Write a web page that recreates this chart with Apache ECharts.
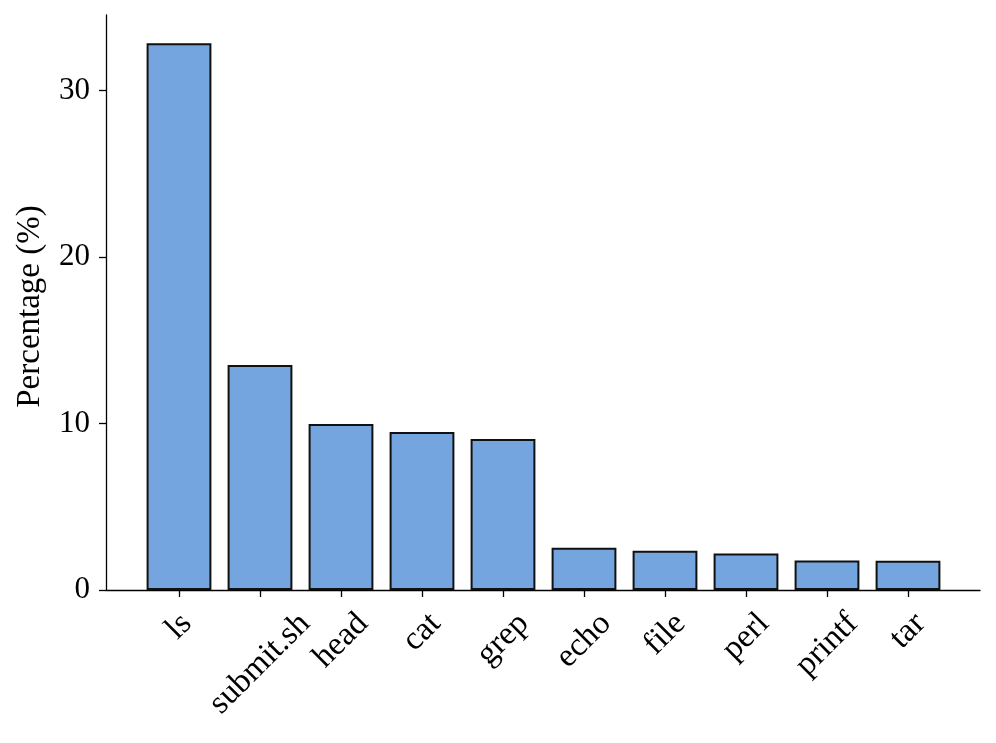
<!DOCTYPE html>
<html><head><meta charset="utf-8">
<script src="https://cdn.jsdelivr.net/npm/echarts@6/dist/echarts.min.js"></script>
<style>html,body{margin:0;padding:0;background:#fff}#c{width:996px;height:743px}</style>
</head><body><div id="c"></div>
<script>
const categories = ['ls','submit.sh','head','cat','grep','echo','file','perl','printf','tar'];
const values = [32.85, 13.52, 9.98, 9.5, 9.07, 2.54, 2.36, 2.2, 1.78, 1.76];
const yTicks = [0, 10, 20, 30];
const yMax = 34.55;

const FONT = '"Liberation Serif", "DejaVu Serif", serif';
const FS = 33;
const FSY = 31;
const cv = document.createElement('canvas').getContext('2d');
cv.font = FS + 'px ' + FONT;
const rich = {};
categories.forEach((c, i) => {
  const w = cv.measureText(c).width;
  const p = 0.5 * (w + FS);
  rich['p' + i] = { padding: [p, p, 0, 0], fontFamily: FONT, fontSize: FS, color: '#000' };
});

const chart = echarts.init(document.getElementById('c'), null, {renderer: 'canvas'});
chart.setOption({
  animation: false,
  backgroundColor: '#fff',
  grid: [
    {left: 106, right: 16, top: 15, bottom: 153},
    {left: 138.5, width: 810, top: 15, bottom: 153}
  ],
  xAxis: [
    {type: 'value', gridIndex: 0, min: 0, max: 1, splitLine: {show: false},
     axisLabel: {show: false}, axisTick: {show: false},
     axisLine: {show: true, lineStyle: {color: '#000', width: 1.3}}},
    {type: 'category', gridIndex: 1, data: categories,
     axisLine: {show: false},
     axisTick: {show: true, alignWithLabel: true, length: 7, lineStyle: {color: '#000', width: 1.3}},
     axisLabel: {interval: 0, rotate: 45, align: 'center', verticalAlign: 'middle', margin: 17,
       formatter: (v, i) => '{p' + i + '|' + v + '}', rich: rich,
       fontFamily: FONT, fontSize: FS, color: '#000'}}
  ],
  yAxis: [
    {type: 'value', gridIndex: 0, min: 0, max: yMax, splitLine: {show: false},
     name: 'Percentage (%)', nameLocation: 'middle', nameGap: 59,
     nameTextStyle: {fontFamily: FONT, fontSize: FS, color: '#000', padding: [0, 8, 0, 0]},
     axisLine: {show: true, lineStyle: {color: '#000', width: 1.3}},
     axisTick: {show: true, length: 7, customValues: yTicks, lineStyle: {color: '#000', width: 1.3}},
     axisLabel: {customValues: yTicks, margin: 16, fontFamily: FONT, fontSize: FSY, color: '#000'}},
    {type: 'value', gridIndex: 1, min: 0, max: yMax, show: false, splitLine: {show: false}}
  ],
  series: [{
    type: 'bar', xAxisIndex: 1, yAxisIndex: 1, data: values, barWidth: '80%',
    itemStyle: {color: '#74a5df', borderColor: '#111', borderWidth: 2}
  }]
});
</script></body></html>
